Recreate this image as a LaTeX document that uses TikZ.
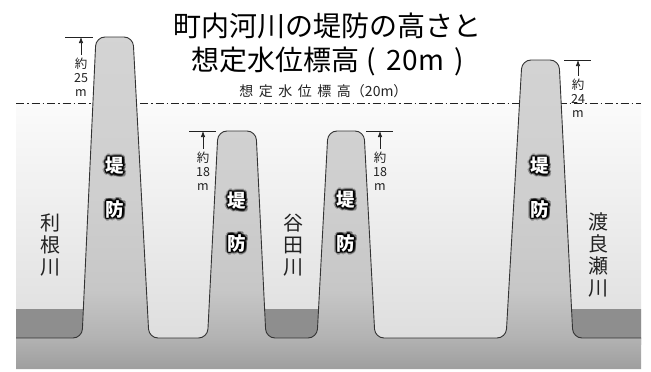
\documentclass[tikz,border=0pt]{standalone}
\usepackage{fontspec}
\setmainfont{Noto Sans CJK JP}
\usetikzlibrary{calc,arrows.meta}

\definecolor{skytop}{HTML}{FBFBFB}
\definecolor{skybot}{HTML}{DEDEDE}
\definecolor{water}{HTML}{8E8E8E}
\definecolor{edge}{HTML}{333333}
\definecolor{ink}{HTML}{222222}

\pgfdeclareverticalshading{groundsh}{100bp}{%
  rgb(0bp)=(0.62,0.62,0.62); rgb(25bp)=(0.62,0.62,0.62);
  rgb(29.7bp)=(0.70,0.70,0.70); rgb(36.9bp)=(0.78,0.78,0.78);
  rgb(50.5bp)=(0.81,0.81,0.81); rgb(75bp)=(0.83,0.83,0.83);
  rgb(100bp)=(0.83,0.83,0.83)}

\newcommand\glowlabel[3]{%
  \foreach \ga in {0,30,...,330}{\node[glowtxt, opacity=0.28] (#1o\ga) at ($(#2)+(\ga:3)$) {#3};}%
  \foreach \ga in {0,45,...,315}{\node[glowtxt, opacity=0.8] (#1i\ga) at ($(#2)+(\ga:1.4)$) {#3};}%
  \node[banktxt] (#1) at (#2) {#3};}
\newcommand\sk{\kern5.5pt}

\begin{document}
\begin{tikzpicture}[x=1pt,y=-1pt,
  titletxt/.style={font=\fontsize{28}{30}\selectfont, text=black, inner sep=0pt},
  subtxt/.style={font=\fontsize{14}{16}\selectfont, text=ink, inner sep=0pt},
  dimtxt/.style={font=\fontsize{12.5}{14}\selectfont, text=ink, align=center, inner sep=0pt},
  rivertxt/.style={font=\fontsize{20}{22}\selectfont, text=ink, align=center, inner sep=0pt},
  banktxt/.style={font=\bfseries\fontsize{18.5}{20}\selectfont, text=white, inner sep=0pt},
  glowtxt/.style={banktxt, text=black},
  dimline/.style={draw=ink, line width=0.7pt},
  dimarrow/.style={draw=ink, line width=0.7pt, shorten <=3pt, -{Latex[length=6pt,width=4.5pt]}},
  outline/.style={draw=edge, line width=0.9pt},
  waterlevel/.style={draw=ink, line width=0.8pt, dash pattern=on 8pt off 3pt on 1.5pt off 3pt}]
\useasboundingbox (0,0) rectangle (651,372);

\begin{scope}
\clip (16,0) rectangle (641,369);
\shade[top color=skytop, bottom color=skybot] (16,103) rectangle (641,338);
\draw[waterlevel] (16,103) -- (641,103);
\fill[water] (0,309) rectangle (90,345);
\fill[water] (258,309) rectangle (326,345);
\fill[water] (565,309) rectangle (660,345);
\shade[shading=groundsh, rounded corners=9pt]
  (-10,369) -- (-10,338) -- (82,338) -- (96,37) -- (133,37) -- (149,338)
  -- (207.5,338) -- (218,131) -- (256,131) -- (266,338)
  -- (317,338) -- (328,131) -- (364,131) -- (375,338)
  -- (506,338) -- (522,60) -- (559,60) -- (573,338)
  -- (670,338) -- (670,369) -- cycle;
\draw[outline, rounded corners=9pt]
  (-10,338) -- (82,338) -- (96,37) -- (133,37) -- (149,338)
  -- (207.5,338) -- (218,131) -- (256,131) -- (266,338)
  -- (317,338) -- (328,131) -- (364,131) -- (375,338)
  -- (506,338) -- (522,60) -- (559,60) -- (573,338)
  -- (670,338);
\end{scope}

% titles
\node[titletxt] (title1) at (327.5,25.5) {町内河川の堤防の高さと};
\node[titletxt] (title2) at (328,61) {想定水位標高\hspace{7pt}(\hspace{11pt}20m\hspace{11pt})};
\node[subtxt] (sub) at (323.5,91) {想\sk 定\sk 水\sk 位\sk 標\sk 高（20m）};

% bank labels
\glowlabel{b1a}{115,166}{堤}
\glowlabel{b1b}{115,209}{防}
\glowlabel{b2a}{237,201}{堤}
\glowlabel{b2b}{237,243}{防}
\glowlabel{b3a}{346,200}{堤}
\glowlabel{b3b}{346,243}{防}
\glowlabel{b4a}{540,166}{堤}
\glowlabel{b4b}{540,209}{防}

% river names
\node[rivertxt] (r1) at (50,245) {利\\根\\川};
\node[rivertxt] (r2) at (293,245) {谷\\田\\川};
\node[rivertxt] (r3) at (598,255) {渡\\良\\瀬\\川};

% dimensions
\coordinate (h1l) at (65,37);  \coordinate (h1r) at (93,37);  \coordinate (h1t) at (81,37);
\coordinate (h2l) at (189,131); \coordinate (h2r) at (216,131); \coordinate (h2t) at (203,131);
\coordinate (h3l) at (366,131); \coordinate (h3r) at (393,131); \coordinate (h3t) at (380,131);
\coordinate (h4l) at (564,60); \coordinate (h4r) at (591,60); \coordinate (h4t) at (578,60);
\node[dimtxt] (d1) at (81,77) {約\\25\\m};
\node[dimtxt] (d2) at (203,171) {約\\18\\m};
\node[dimtxt] (d3) at (380,171) {約\\18\\m};
\node[dimtxt] (d4) at (578,98) {約\\24\\m};
\foreach \i in {1,2,3,4}{
  \draw[dimline] (h\i l) -- (h\i r);
  \draw[dimarrow] (d\i.north) -- (h\i t);
}
\end{tikzpicture}
\end{document}
